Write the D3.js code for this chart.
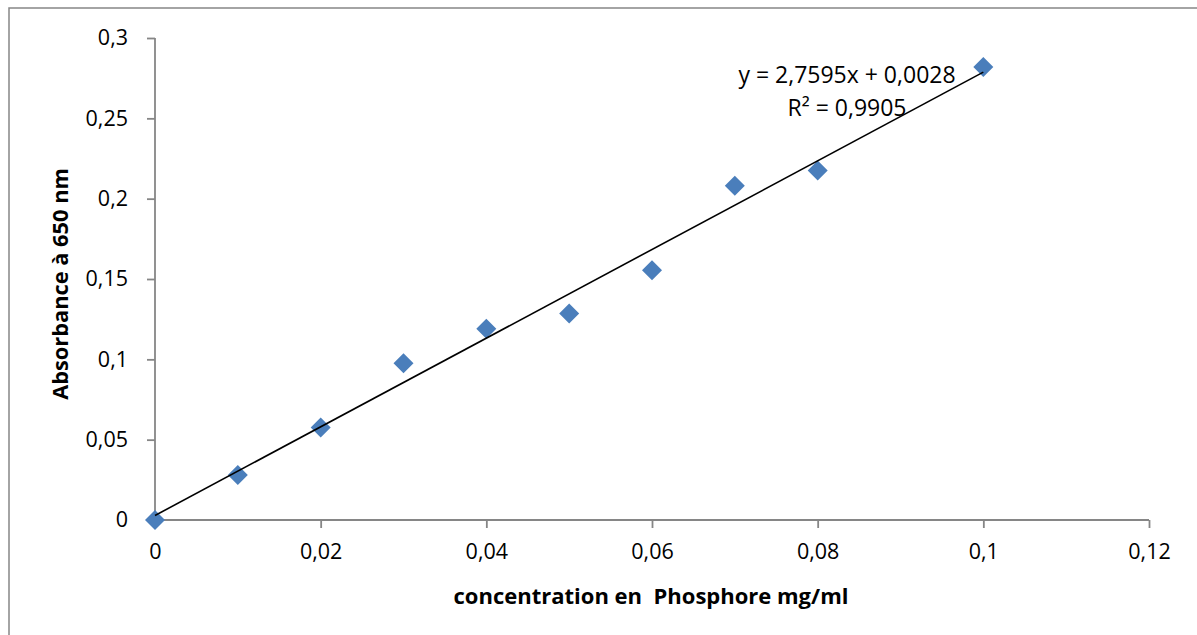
<!DOCTYPE html>
<html>
<head>
<meta charset="utf-8">
<script src="https://cdn.jsdelivr.net/npm/d3@7"></script>
<style>
  html, body { margin: 0; padding: 0; background: #fff; }
  svg { display: block; }
  text { font-family: "Open Sans", "Lato", sans-serif; fill: #000; }
</style>
</head>
<body>
<svg id="chart" width="1197" height="635"></svg>
<script>
// Phosphore calibration: concentration (mg/ml) vs absorbance at 650 nm
const concentrations = [0, 0.01, 0.02, 0.03, 0.04, 0.05, 0.06, 0.07, 0.08, 0.1];
const absorbances    = [0, 0.028, 0.0575, 0.0975, 0.119, 0.1285, 0.1555, 0.208, 0.2175, 0.282];

const xTicks = [0, 0.02, 0.04, 0.06, 0.08, 0.1, 0.12];
const yTicks = [0, 0.05, 0.1, 0.15, 0.2, 0.25, 0.3];

// Linear trendline reported for the series
const slope = 2.7595;
const intercept = 0.0028;
const r2 = 0.9905;

const fmt = v => String(v).replace(".", ",");

const svg = d3.select("#chart");
const W = 1197, H = 635;

// Chart-area frame
svg.append("rect")
  .attr("x", 9).attr("y", 8)
  .attr("width", W + 10).attr("height", H + 10)
  .attr("fill", "#fff")
  .attr("stroke", "#868686").attr("stroke-width", 1.5);

const x = d3.scaleLinear().domain([0, 0.12]).range([155, 1149]);
const y = d3.scaleLinear().domain([0, 0.3]).range([520, 38]);

const axisColor = "#868686";

// Y axis
const yAxis = svg.append("g")
  .attr("transform", `translate(${x(0)},0)`)
  .call(d3.axisLeft(y).tickValues(yTicks).tickFormat(fmt).tickSize(8).tickPadding(19));
// X axis
const xAxis = svg.append("g")
  .attr("transform", `translate(0,${y(0)})`)
  .call(d3.axisBottom(x).tickValues(xTicks).tickFormat(fmt).tickSize(8).tickPadding(16));

[yAxis, xAxis].forEach(g => {
  g.select(".domain").attr("stroke", axisColor).attr("stroke-width", 1.8);
  g.selectAll(".tick line").attr("stroke", axisColor).attr("stroke-width", 1.8);
  g.selectAll(".tick text")
    .style("font-family", '"Open Sans", "Lato", sans-serif')
    .style("font-size", "21.5px").attr("fill", "#000");
});
// Remove the outer end caps from the domain paths
yAxis.select(".domain").attr("d", `M0,${y(0.3)}V${y(0)}`);
xAxis.select(".domain").attr("d", `M${x(0)},0H${x(0.12)}`);

// Axis titles
svg.append("text")
  .attr("x", 651).attr("y", 604)
  .attr("text-anchor", "middle")
  .style("font-size", "22px").style("font-weight", "bold")
  .attr("xml:space", "preserve")
  .text("concentration en  Phosphore mg/ml");

svg.append("text")
  .attr("transform", `translate(68,${284}) rotate(-90)`)
  .attr("text-anchor", "middle")
  .style("font-size", "21.8px").style("font-weight", "bold")
  .text("Absorbance à 650 nm");

// Data markers (diamonds)
const diamond = d3.symbol().type(d3.symbolSquare).size(200);
svg.append("g").selectAll("path")
  .data(concentrations.map((c, i) => [c, absorbances[i]]))
  .join("path")
  .attr("d", diamond)
  .attr("transform", d => `translate(${x(d[0])},${y(d[1])}) rotate(45)`)
  .attr("fill", "#4a7ebb");

// Trendline over the data range
const x0 = d3.min(concentrations), x1 = d3.max(concentrations);
svg.append("line")
  .attr("x1", x(x0)).attr("y1", y(slope * x0 + intercept))
  .attr("x2", x(x1)).attr("y2", y(slope * x1 + intercept))
  .attr("stroke", "#000").attr("stroke-width", 1.6);

// Trendline equation and R²
const eq = svg.append("text")
  .attr("text-anchor", "middle")
  .style("font-size", "23px");
eq.append("tspan").attr("x", 847).attr("y", 83)
  .text(`y = ${fmt(slope)}x + ${fmt(intercept)}`);
eq.append("tspan").attr("x", 847).attr("y", 116)
  .text(`R² = ${fmt(r2)}`);
</script>
</body>
</html>
